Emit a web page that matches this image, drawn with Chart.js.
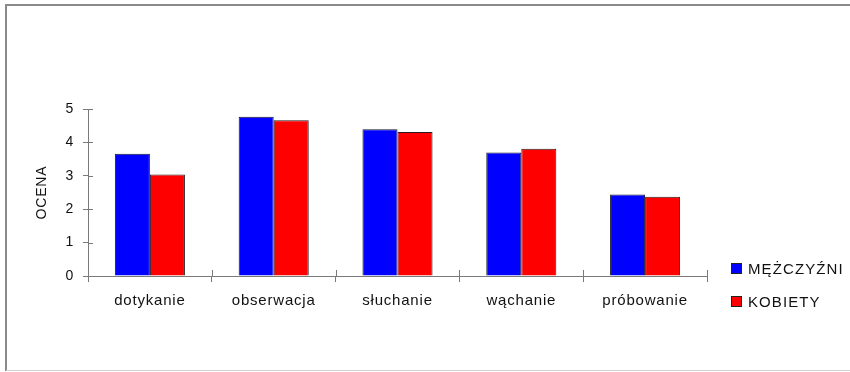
<!DOCTYPE html>
<html lang="pl">
<head>
<meta charset="utf-8">
<title>Ocena zmysłów</title>
<script src="https://cdn.jsdelivr.net/npm/chart.js@4.4.1/dist/chart.umd.min.js"></script>
<style>
  html, body { margin: 0; padding: 0; background: #ffffff; }
  #wrap { width: 850px; height: 372px; position: relative; }
</style>
</head>
<body>
<div id="wrap"><canvas id="chart" width="850" height="372"></canvas></div>
<script>
// Categories and series
const categories = ['dotykanie', 'obserwacja', 'słuchanie', 'wąchanie', 'próbowanie'];
const seriesNames = ['MĘŻCZYŹNI', 'KOBIETY'];
const menValues = [3.66, 4.77, 4.39, 3.70, 2.44];
const womenValues = [3.04, 4.66, 4.31, 3.81, 2.37];
const yTicks = [0, 1, 2, 3, 4, 5];
const axisTitle = 'OCENA';

const FONT = '"Liberation Sans", Arial, sans-serif';
const TEXT = '#111111';
const AXIS = '#7a7a7a';

// White background and the outer frame
const framePlugin = {
  id: 'frame',
  beforeDraw(chart) {
    const ctx = chart.ctx;
    ctx.save();
    ctx.fillStyle = '#ffffff';
    ctx.fillRect(0, 0, chart.width, chart.height);
    ctx.strokeStyle = '#8a8a8a';
    ctx.lineWidth = 2;
    ctx.beginPath();
    ctx.moveTo(6, 371);
    ctx.lineTo(6, 5);
    ctx.lineTo(chart.width + 2, 5);
    ctx.stroke();
    ctx.strokeStyle = '#d0d0d0';
    ctx.lineWidth = 1;
    ctx.beginPath();
    ctx.moveTo(6, 370.5);
    ctx.lineTo(chart.width, 370.5);
    ctx.stroke();
    ctx.restore();
    // slightly wider lettering for all chart text
    chart.ctx.letterSpacing = '0.8px';
  },
  beforeLayout(chart) {
    chart.ctx.letterSpacing = '0.8px';
  }
};

// Tick marks that cross the axes (the inner half)
const crossTicks = {
  id: 'crossTicks',
  afterDatasetsDraw(chart) {
    const ctx = chart.ctx;
    const x = chart.scales.x, y = chart.scales.y;
    ctx.save();
    ctx.strokeStyle = AXIS;
    ctx.lineWidth = 1;
    ctx.beginPath();
    y.ticks.forEach(t => {
      const py = Math.round(y.getPixelForValue(t.value)) + 0.5;
      ctx.moveTo(x.left, py);
      ctx.lineTo(x.left + 5, py);
    });
    const n = categories.length;
    for (let i = 0; i <= n; i++) {
      let px;
      if (i === 0) px = x.left;
      else if (i === n) px = x.right;
      else px = (x.getPixelForValue(i - 1) + x.getPixelForValue(i)) / 2;
      px = Math.round(px) + 0.5;
      ctx.moveTo(px, y.bottom - 6);
      ctx.lineTo(px, y.bottom);
    }
    ctx.stroke();
    ctx.restore();
  }
};

// Legend with square swatches at the lower right
const sideLegend = {
  id: 'sideLegend',
  afterDraw(chart) {
    const ctx = chart.ctx;
    ctx.save();
    ctx.letterSpacing = '1.1px';
    ctx.font = '15px ' + FONT;
    ctx.textBaseline = 'middle';
    ctx.textAlign = 'left';
    const rows = [269, 302];
    chart.data.datasets.forEach((ds, i) => {
      const cy = rows[i];
      ctx.fillStyle = ds.backgroundColor;
      ctx.fillRect(731, cy - 6, 11, 11);
      ctx.strokeStyle = '#222222';
      ctx.lineWidth = 1;
      ctx.strokeRect(731.5, cy - 5.5, 10, 10);
      ctx.fillStyle = TEXT;
      ctx.fillText(ds.label, 748, cy + 1);
    });
    ctx.restore();
  }
};

new Chart(document.getElementById('chart'), {
  type: 'bar',
  data: {
    labels: categories,
    datasets: [
      {
        label: seriesNames[0],
        data: menValues,
        backgroundColor: '#0000ff',
        borderColor: '#1a1a2a',
        borderWidth: 1,
        borderSkipped: 'bottom'
      },
      {
        label: seriesNames[1],
        data: womenValues,
        backgroundColor: '#ff0000',
        borderColor: '#2a1a1a',
        borderWidth: 1,
        borderSkipped: 'bottom'
      }
    ]
  },
  options: {
    responsive: false,
    animation: false,
    devicePixelRatio: 1,
    layout: { padding: { left: 0, top: 109, right: 143, bottom: 0 } },
    datasets: {
      bar: { categoryPercentage: 0.566, barPercentage: 1.0 }
    },
    plugins: {
      legend: { display: false },
      title: { display: false },
      tooltip: { enabled: false }
    },
    scales: {
      x: {
        offset: true,
        grid: {
          display: true,
          offset: true,
          drawOnChartArea: false,
          drawTicks: true,
          tickLength: 6,
          color: AXIS
        },
        border: { display: true, color: AXIS, width: 1 },
        ticks: {
          color: TEXT,
          font: { family: FONT, size: 15 },
          padding: 10,
          maxRotation: 0,
          autoSkip: false
        },
        afterFit(scale) { scale.height = 96; }
      },
      y: {
        min: 0,
        max: 5,
        afterBuildTicks(scale) { scale.ticks = yTicks.map(v => ({ value: v })); },
        grid: {
          display: true,
          drawOnChartArea: false,
          drawTicks: true,
          tickLength: 5,
          color: AXIS
        },
        border: { display: true, color: AXIS, width: 1 },
        ticks: {
          color: TEXT,
          font: { family: FONT, size: 14 },
          padding: 9
        },
        title: {
          display: true,
          text: axisTitle,
          color: TEXT,
          font: { family: FONT, size: 14 },
          padding: { top: 34, bottom: 0 }
        },
        afterFit(scale) { scale.width = 88; }
      }
    }
  },
  plugins: [framePlugin, crossTicks, sideLegend]
});
</script>
</body>
</html>
